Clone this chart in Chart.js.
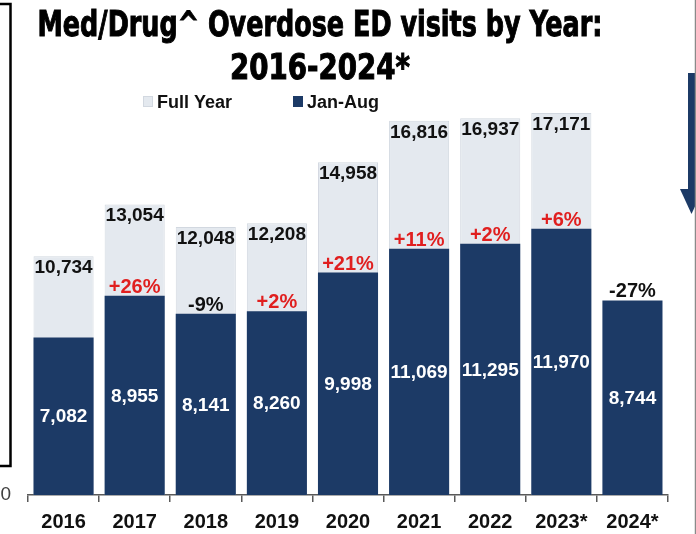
<!DOCTYPE html>
<html>
<head>
<meta charset="utf-8">
<title>Med/Drug Overdose ED visits by Year</title>
<script src="https://cdn.jsdelivr.net/npm/chart.js@4.4.1/dist/chart.umd.min.js"></script>
<style>
  html, body { margin: 0; padding: 0; background: #ffffff; }
  #chart { display: block; }
</style>
</head>
<body>
<canvas id="chart" width="696" height="534"></canvas>
<script>
// data
const years = ["2016", "2017", "2018", "2019", "2020", "2021", "2022", "2023*", "2024*"];
const fullYear = [10734, 13054, 12048, 12208, 14958, 16816, 16937, 17171, null];
const janAug = [7082, 8955, 8141, 8260, 9998, 11069, 11295, 11970, 8744];
// change of Jan-Aug vs the year before
const changeLabels = [null, "+26%", "-9%", "+2%", "+21%", "+11%", "+2%", "+6%", "-27%"];
const titleLines = ["Med/Drug^ Overdose ED visits by Year:", "2016-2024*"];

const navy = "#1c3a66";
const pale = "#e4e9ef";
const redText = "#e01f1f";
const fontSans = '"Liberation Sans", Arial, sans-serif';
const fontTitle = '"Liberation Sans Narrow", "DejaVu Sans Condensed", sans-serif';

const fmt = (v) => v.toLocaleString("en-US");

// title, legend and the slide bits round the chart
const slidePlugin = {
  id: "slide",
  beforeDraw(chart) {
    const ctx = chart.ctx;
    ctx.save();
    ctx.fillStyle = "#ffffff";
    ctx.fillRect(0, 0, chart.width, chart.height);
    ctx.restore();
  },
  afterDraw(chart) {
    const ctx = chart.ctx;
    ctx.save();
    // title, squeezed to the width of the slide heading
    ctx.fillStyle = "#000000";
    ctx.strokeStyle = "#000000";
    ctx.lineWidth = 1;
    ctx.textAlign = "center";
    ctx.textBaseline = "alphabetic";
    ctx.font = "bold 36px " + fontTitle;
    const widths = [565, 180];
    const baselines = [36, 79];
    titleLines.forEach((line, i) => {
      const sx = widths[i] / ctx.measureText(line).width;
      ctx.save();
      ctx.translate(320, baselines[i]);
      ctx.scale(sx, 1);
      ctx.fillText(line, 0, 0);
      ctx.strokeText(line, 0, 0);
      ctx.restore();
    });

    // legend
    const items = [
      { ds: chart.data.datasets[1], x: 143 },
      { ds: chart.data.datasets[0], x: 293 },
    ];
    ctx.font = "bold 18px " + fontSans;
    ctx.textAlign = "left";
    items.forEach((it) => {
      ctx.fillStyle = it.ds.backgroundColor;
      ctx.fillRect(it.x, 96, 10, 11);
      if (it.ds.borderWidth) {
        ctx.strokeStyle = it.ds.borderColor;
        ctx.lineWidth = 1;
        ctx.strokeRect(it.x + 0.5, 96.5, 9, 10);
      }
      ctx.fillStyle = "#111111";
      ctx.fillText(it.ds.label, it.x + 14, 108);
    });

    // box edge on the left of the slide
    ctx.strokeStyle = "#000000";
    ctx.lineWidth = 2.5;
    ctx.beginPath();
    ctx.moveTo(0, 4);
    ctx.lineTo(10.5, 4);
    ctx.lineTo(10.5, 466);
    ctx.lineTo(0, 466);
    ctx.stroke();

    // down arrow on the right
    ctx.fillStyle = navy;
    ctx.fillRect(688, 73, 8, 117);
    ctx.beginPath();
    ctx.moveTo(680, 189);
    ctx.lineTo(703, 189);
    ctx.lineTo(691.5, 214);
    ctx.closePath();
    ctx.fill();
    ctx.strokeStyle = "#8a8a8a";
    ctx.lineWidth = 1.5;
    ctx.beginPath();
    ctx.moveTo(695.5, 0);
    ctx.lineTo(695.5, chart.height);
    ctx.stroke();
    ctx.restore();
  },
};

// value and change labels on the bars
const labelPlugin = {
  id: "barLabels",
  afterDatasetsDraw(chart) {
    const ctx = chart.ctx;
    const jan = chart.getDatasetMeta(0);
    const full = chart.getDatasetMeta(1);
    ctx.save();
    ctx.textAlign = "center";

    ctx.font = "bold 19px " + fontSans;
    ctx.fillStyle = "#111111";
    ctx.textBaseline = "top";
    full.data.forEach((bar, i) => {
      if (fullYear[i] == null) return;
      ctx.fillText(fmt(fullYear[i]), bar.x, bar.y + 2);
    });

    ctx.fillStyle = "#ffffff";
    ctx.textBaseline = "middle";
    jan.data.forEach((bar, i) => {
      ctx.fillText(fmt(janAug[i]), bar.x, (bar.y + bar.base) / 2 + 1);
    });

    ctx.font = "bold 20px " + fontSans;
    ctx.textBaseline = "alphabetic";
    jan.data.forEach((bar, i) => {
      const t = changeLabels[i];
      if (!t) return;
      ctx.fillStyle = t.startsWith("+") ? redText : "#111111";
      ctx.fillText(t, bar.x, bar.y - 3);
    });
    ctx.restore();
  },
};

let myChart = new Chart(document.getElementById("chart"), {
  type: "bar",
  plugins: [slidePlugin, labelPlugin],
  data: {
    labels: years,
    datasets: [
      {
        label: "Jan-Aug",
        data: janAug,
        backgroundColor: navy,
        borderWidth: 0,
        order: 0,
      },
      {
        label: "Full Year",
        data: fullYear,
        backgroundColor: pale,
        borderColor: "#d2d8e0",
        borderWidth: 1,
        order: 1,
      },
    ],
  },
  options: {
    responsive: false,
    devicePixelRatio: 1,
    animation: false,
    grouped: false,
    barPercentage: 0.845,
    categoryPercentage: 1,
    layout: { padding: { top: 50, right: 28, left: 0, bottom: 0 } },
    plugins: {
      legend: { display: false },
      title: { display: false },
      tooltip: { enabled: false },
    },
    scales: {
      x: {
        afterFit: (s) => { s.height = 39; },
        grid: {
          display: true,
          drawOnChartArea: false,
          drawTicks: true,
          tickLength: 7,
          color: "#595959",
          lineWidth: 1.5,
        },
        border: { display: true, color: "#595959", width: 1.5 },
        ticks: {
          padding: 8,
          color: "#111111",
          font: { family: fontSans, size: 20, weight: "bold" },
        },
      },
      y: {
        min: 0,
        max: 20000,
        afterFit: (s) => { s.width = 28; },
        afterBuildTicks: (s) => { s.ticks = s.ticks.filter((t) => t.value === 0); },
        grid: { display: false, drawTicks: false, tickLength: 0 },
        border: { display: false },
        ticks: {
          padding: 17,
          color: "#404040",
          font: { family: fontSans, size: 19 },
        },
      },
    },
  },
});
</script>
</body>
</html>
